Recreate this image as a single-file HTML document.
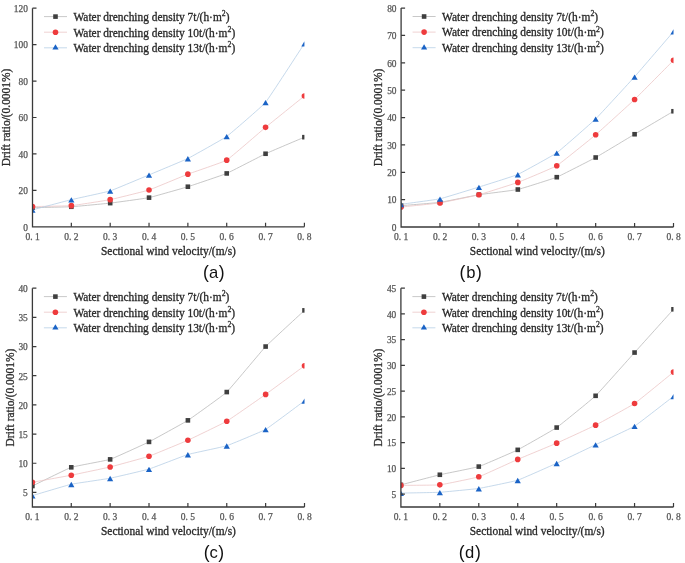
<!DOCTYPE html>
<html><head><meta charset="utf-8"><style>
html,body{margin:0;padding:0;background:#fff;}
svg{display:block;filter:blur(0.3px);}
.tl{font-family:'Liberation Serif',serif;fill:#555;stroke:#555;stroke-width:0.25px}
.at{font-family:'Liberation Serif',serif;font-size:11.42px;fill:#2a2a2a;stroke:#2a2a2a;stroke-width:0.3px}
.lg{font-family:'Liberation Serif',serif;font-size:11.42px;fill:#2a2a2a;stroke:#2a2a2a;stroke-width:0.3px}
.pl{font-family:'Liberation Sans',sans-serif;font-size:16.6px;fill:#111;}
</style></head><body>
<svg width="685" height="563" viewBox="0 0 685 563">
<rect width="685" height="563" fill="#fff"/>
<clipPath id="clipa"><rect x="32.5" y="5.199999999999999" width="271.9" height="221.60000000000002"/></clipPath>
<g clip-path="url(#clipa)">
<path d="M32.50,207.67 C34.12,207.63 68.11,206.95 71.34,206.76 C74.58,206.57 106.95,203.50 110.19,203.12 C113.42,202.74 145.79,198.34 149.03,197.65 C152.27,196.97 184.63,187.73 187.87,186.72 C191.11,185.71 223.48,174.80 226.71,173.43 C229.95,172.05 262.32,155.26 265.56,153.75 C268.79,152.24 302.78,137.86 304.40,137.17" fill="none" stroke="#bababa" stroke-width="0.8"/>
<path d="M32.50,206.58 C34.12,206.54 68.11,205.96 71.34,205.67 C74.58,205.38 106.95,200.31 110.19,199.66 C113.42,199.00 145.79,191.06 149.03,190.00 C152.27,188.94 184.63,175.40 187.87,174.15 C191.11,172.91 223.48,162.08 226.71,160.13 C229.95,158.18 262.32,130.01 265.56,127.34 C268.79,124.67 302.78,97.31 304.40,96.00" fill="none" stroke="#ecc6c6" stroke-width="0.8"/>
<path d="M32.50,209.86 C34.12,209.43 68.11,200.45 71.34,199.66 C74.58,198.87 106.95,191.95 110.19,190.91 C113.42,189.88 145.79,176.23 149.03,174.88 C152.27,173.53 184.63,160.09 187.87,158.49 C191.11,156.89 223.48,138.78 226.71,136.45 C229.95,134.11 262.32,106.25 265.56,102.38 C268.79,98.51 302.78,45.99 304.40,43.54" fill="none" stroke="#b8cfe6" stroke-width="0.8"/>
<rect x="30.20" y="205.37" width="4.6" height="4.6" fill="#3f3f3f"/>
<rect x="69.04" y="204.46" width="4.6" height="4.6" fill="#3f3f3f"/>
<rect x="107.89" y="200.82" width="4.6" height="4.6" fill="#3f3f3f"/>
<rect x="146.73" y="195.35" width="4.6" height="4.6" fill="#3f3f3f"/>
<rect x="185.57" y="184.42" width="4.6" height="4.6" fill="#3f3f3f"/>
<rect x="224.41" y="171.13" width="4.6" height="4.6" fill="#3f3f3f"/>
<rect x="263.26" y="151.45" width="4.6" height="4.6" fill="#3f3f3f"/>
<rect x="302.10" y="134.87" width="4.6" height="4.6" fill="#3f3f3f"/>
<circle cx="32.50" cy="206.58" r="2.8" fill="#ee3b3d"/>
<circle cx="71.34" cy="205.67" r="2.8" fill="#ee3b3d"/>
<circle cx="110.19" cy="199.66" r="2.8" fill="#ee3b3d"/>
<circle cx="149.03" cy="190.00" r="2.8" fill="#ee3b3d"/>
<circle cx="187.87" cy="174.15" r="2.8" fill="#ee3b3d"/>
<circle cx="226.71" cy="160.13" r="2.8" fill="#ee3b3d"/>
<circle cx="265.56" cy="127.34" r="2.8" fill="#ee3b3d"/>
<circle cx="304.40" cy="96.00" r="2.8" fill="#ee3b3d"/>
<path d="M32.50,207.47 L35.60,212.77 L29.40,212.77Z" fill="#1a63c6"/>
<path d="M71.34,197.27 L74.44,202.57 L68.24,202.57Z" fill="#1a63c6"/>
<path d="M110.19,188.53 L113.29,193.83 L107.09,193.83Z" fill="#1a63c6"/>
<path d="M149.03,172.50 L152.13,177.80 L145.93,177.80Z" fill="#1a63c6"/>
<path d="M187.87,156.10 L190.97,161.40 L184.77,161.40Z" fill="#1a63c6"/>
<path d="M226.71,134.06 L229.81,139.36 L223.61,139.36Z" fill="#1a63c6"/>
<path d="M265.56,100.00 L268.66,105.30 L262.46,105.30Z" fill="#1a63c6"/>
<path d="M304.40,41.16 L307.50,46.46 L301.30,46.46Z" fill="#1a63c6"/>
</g>
<path d="M32.5,8.2 V226.8 H304.4" fill="none" stroke="#3a3a3a" stroke-width="1.3"/>
<path d="M32.5,190.37 h4 M32.5,153.93 h4 M32.5,117.50 h4 M32.5,81.07 h4 M32.5,44.63 h4 M32.5,8.20 h4 M71.34,226.8 v-4 M110.19,226.8 v-4 M149.03,226.8 v-4 M187.87,226.8 v-4 M226.71,226.8 v-4 M265.56,226.8 v-4 M304.40,226.8 v-4 " fill="none" stroke="#3a3a3a" stroke-width="1.2"/>
<text x="27.90" y="230.60" text-anchor="end" class="tl" font-size="9.4">0</text>
<text x="27.90" y="194.17" text-anchor="end" class="tl" font-size="9.4">20</text>
<text x="27.90" y="157.73" text-anchor="end" class="tl" font-size="9.4">40</text>
<text x="27.90" y="121.30" text-anchor="end" class="tl" font-size="9.4">60</text>
<text x="27.90" y="84.87" text-anchor="end" class="tl" font-size="9.4">80</text>
<text x="27.90" y="48.43" text-anchor="end" class="tl" font-size="9.4">100</text>
<text x="27.90" y="12.00" text-anchor="end" class="tl" font-size="9.4">120</text>
<text x="32.50" y="239.80" text-anchor="middle" class="tl" font-size="9.5">0. 1</text>
<text x="71.34" y="239.80" text-anchor="middle" class="tl" font-size="9.5">0. 2</text>
<text x="110.19" y="239.80" text-anchor="middle" class="tl" font-size="9.5">0. 3</text>
<text x="149.03" y="239.80" text-anchor="middle" class="tl" font-size="9.5">0. 4</text>
<text x="187.87" y="239.80" text-anchor="middle" class="tl" font-size="9.5">0. 5</text>
<text x="226.71" y="239.80" text-anchor="middle" class="tl" font-size="9.5">0. 6</text>
<text x="265.56" y="239.80" text-anchor="middle" class="tl" font-size="9.5">0. 7</text>
<text x="304.40" y="239.80" text-anchor="middle" class="tl" font-size="9.5">0. 8</text>
<text x="168.45" y="255.10" text-anchor="middle" class="at">Sectional wind velocity/(m/s)</text>
<text transform="translate(10.0,117.50) rotate(-90)" text-anchor="middle" class="at">Drift ratio/(0.0001%)</text>
<path d="M44.0,16.60 H67.0" stroke="#bababa" stroke-width="0.8"/>
<rect x="53.20" y="14.30" width="4.6" height="4.6" fill="#3f3f3f"/>
<text x="73.5" y="20.90" class="lg">Water drenching density 7t/(h·m<tspan dy="-4.8" font-size="7.8">2</tspan><tspan dy="4.8">)</tspan></text>
<path d="M44.0,32.20 H67.0" stroke="#ecc6c6" stroke-width="0.8"/>
<circle cx="55.50" cy="32.20" r="2.8" fill="#ee3b3d"/>
<text x="73.5" y="36.50" class="lg">Water drenching density 10t/(h·m<tspan dy="-4.8" font-size="7.8">2</tspan><tspan dy="4.8">)</tspan></text>
<path d="M44.0,47.80 H67.0" stroke="#b8cfe6" stroke-width="0.8"/>
<path d="M55.50,44.30 L58.60,49.60 L52.40,49.60Z" fill="#1a63c6"/>
<text x="73.5" y="52.10" class="lg">Water drenching density 13t/(h·m<tspan dy="-4.8" font-size="7.8">2</tspan><tspan dy="4.8">)</tspan></text>
<text y="277.8" class="pl"><tspan x="202.9" font-size="17.6">(</tspan><tspan x="208.9">a</tspan><tspan x="218.8" font-size="17.6">)</tspan></text>
<clipPath id="clipb"><rect x="401.1" y="5.1" width="272.4" height="221.9"/></clipPath>
<g clip-path="url(#clipb)">
<path d="M401.10,205.66 C402.72,205.52 436.77,202.83 440.01,202.37 C443.26,201.92 475.69,195.25 478.93,194.71 C482.17,194.18 514.60,190.24 517.84,189.51 C521.09,188.78 553.51,178.53 556.76,177.20 C560.00,175.87 592.43,159.29 595.67,157.50 C598.91,155.71 631.34,136.17 634.59,134.24 C637.83,132.31 671.88,112.21 673.50,111.26" fill="none" stroke="#bababa" stroke-width="0.8"/>
<path d="M401.10,207.03 C402.72,206.85 436.77,203.43 440.01,202.92 C443.26,202.41 475.69,195.57 478.93,194.71 C482.17,193.86 514.60,183.61 517.84,182.40 C521.09,181.19 553.51,167.69 556.76,165.71 C560.00,163.72 592.43,137.55 595.67,134.79 C598.91,132.03 631.34,102.59 634.59,99.49 C637.83,96.39 671.88,61.99 673.50,60.36" fill="none" stroke="#ecc6c6" stroke-width="0.8"/>
<path d="M401.10,204.29 C402.72,204.06 436.77,199.53 440.01,198.82 C443.26,198.10 475.69,188.07 478.93,187.05 C482.17,186.04 514.60,175.89 517.84,174.46 C521.09,173.04 553.51,155.16 556.76,152.85 C560.00,150.53 592.43,122.09 595.67,118.92 C598.91,115.75 631.34,80.42 634.59,76.78 C637.83,73.14 671.88,33.51 673.50,31.63" fill="none" stroke="#b8cfe6" stroke-width="0.8"/>
<rect x="398.80" y="203.36" width="4.6" height="4.6" fill="#3f3f3f"/>
<rect x="437.71" y="200.07" width="4.6" height="4.6" fill="#3f3f3f"/>
<rect x="476.63" y="192.41" width="4.6" height="4.6" fill="#3f3f3f"/>
<rect x="515.54" y="187.21" width="4.6" height="4.6" fill="#3f3f3f"/>
<rect x="554.46" y="174.90" width="4.6" height="4.6" fill="#3f3f3f"/>
<rect x="593.37" y="155.20" width="4.6" height="4.6" fill="#3f3f3f"/>
<rect x="632.29" y="131.94" width="4.6" height="4.6" fill="#3f3f3f"/>
<rect x="671.20" y="108.96" width="4.6" height="4.6" fill="#3f3f3f"/>
<circle cx="401.10" cy="207.03" r="2.8" fill="#ee3b3d"/>
<circle cx="440.01" cy="202.92" r="2.8" fill="#ee3b3d"/>
<circle cx="478.93" cy="194.71" r="2.8" fill="#ee3b3d"/>
<circle cx="517.84" cy="182.40" r="2.8" fill="#ee3b3d"/>
<circle cx="556.76" cy="165.71" r="2.8" fill="#ee3b3d"/>
<circle cx="595.67" cy="134.79" r="2.8" fill="#ee3b3d"/>
<circle cx="634.59" cy="99.49" r="2.8" fill="#ee3b3d"/>
<circle cx="673.50" cy="60.36" r="2.8" fill="#ee3b3d"/>
<path d="M401.10,201.90 L404.20,207.20 L398.00,207.20Z" fill="#1a63c6"/>
<path d="M440.01,196.43 L443.11,201.73 L436.91,201.73Z" fill="#1a63c6"/>
<path d="M478.93,184.67 L482.03,189.97 L475.83,189.97Z" fill="#1a63c6"/>
<path d="M517.84,172.08 L520.94,177.38 L514.74,177.38Z" fill="#1a63c6"/>
<path d="M556.76,150.46 L559.86,155.76 L553.66,155.76Z" fill="#1a63c6"/>
<path d="M595.67,116.53 L598.77,121.83 L592.57,121.83Z" fill="#1a63c6"/>
<path d="M634.59,74.39 L637.69,79.69 L631.49,79.69Z" fill="#1a63c6"/>
<path d="M673.50,29.25 L676.60,34.55 L670.40,34.55Z" fill="#1a63c6"/>
</g>
<path d="M401.1,8.1 V227.0 H673.5" fill="none" stroke="#3a3a3a" stroke-width="1.3"/>
<path d="M401.1,199.64 h4 M401.1,172.28 h4 M401.1,144.91 h4 M401.1,117.55 h4 M401.1,90.19 h4 M401.1,62.82 h4 M401.1,35.46 h4 M401.1,8.10 h4 M440.01,227.0 v-4 M478.93,227.0 v-4 M517.84,227.0 v-4 M556.76,227.0 v-4 M595.67,227.0 v-4 M634.59,227.0 v-4 M673.50,227.0 v-4 " fill="none" stroke="#3a3a3a" stroke-width="1.2"/>
<text x="396.50" y="230.80" text-anchor="end" class="tl" font-size="9.4">0</text>
<text x="396.50" y="203.44" text-anchor="end" class="tl" font-size="9.4">10</text>
<text x="396.50" y="176.08" text-anchor="end" class="tl" font-size="9.4">20</text>
<text x="396.50" y="148.71" text-anchor="end" class="tl" font-size="9.4">30</text>
<text x="396.50" y="121.35" text-anchor="end" class="tl" font-size="9.4">40</text>
<text x="396.50" y="93.99" text-anchor="end" class="tl" font-size="9.4">50</text>
<text x="396.50" y="66.62" text-anchor="end" class="tl" font-size="9.4">60</text>
<text x="396.50" y="39.26" text-anchor="end" class="tl" font-size="9.4">70</text>
<text x="396.50" y="11.90" text-anchor="end" class="tl" font-size="9.4">80</text>
<text x="401.10" y="240.00" text-anchor="middle" class="tl" font-size="9.5">0. 1</text>
<text x="440.01" y="240.00" text-anchor="middle" class="tl" font-size="9.5">0. 2</text>
<text x="478.93" y="240.00" text-anchor="middle" class="tl" font-size="9.5">0. 3</text>
<text x="517.84" y="240.00" text-anchor="middle" class="tl" font-size="9.5">0. 4</text>
<text x="556.76" y="240.00" text-anchor="middle" class="tl" font-size="9.5">0. 5</text>
<text x="595.67" y="240.00" text-anchor="middle" class="tl" font-size="9.5">0. 6</text>
<text x="634.59" y="240.00" text-anchor="middle" class="tl" font-size="9.5">0. 7</text>
<text x="673.50" y="240.00" text-anchor="middle" class="tl" font-size="9.5">0. 8</text>
<text x="537.30" y="255.30" text-anchor="middle" class="at">Sectional wind velocity/(m/s)</text>
<text transform="translate(382.4,117.55) rotate(-90)" text-anchor="middle" class="at">Drift ratio/(0.0001%)</text>
<path d="M412.6,16.50 H435.6" stroke="#bababa" stroke-width="0.8"/>
<rect x="421.80" y="14.20" width="4.6" height="4.6" fill="#3f3f3f"/>
<text x="442.1" y="20.80" class="lg">Water drenching density 7t/(h·m<tspan dy="-4.8" font-size="7.8">2</tspan><tspan dy="4.8">)</tspan></text>
<path d="M412.6,32.10 H435.6" stroke="#ecc6c6" stroke-width="0.8"/>
<circle cx="424.10" cy="32.10" r="2.8" fill="#ee3b3d"/>
<text x="442.1" y="36.40" class="lg">Water drenching density 10t/(h·m<tspan dy="-4.8" font-size="7.8">2</tspan><tspan dy="4.8">)</tspan></text>
<path d="M412.6,47.70 H435.6" stroke="#b8cfe6" stroke-width="0.8"/>
<path d="M424.10,44.20 L427.20,49.50 L421.00,49.50Z" fill="#1a63c6"/>
<text x="442.1" y="52.00" class="lg">Water drenching density 13t/(h·m<tspan dy="-4.8" font-size="7.8">2</tspan><tspan dy="4.8">)</tspan></text>
<text y="277.8" class="pl"><tspan x="459.4" font-size="17.6">(</tspan><tspan x="466.2">b</tspan><tspan x="475.9" font-size="17.6">)</tspan></text>
<clipPath id="clipc"><rect x="32.4" y="285.2" width="272.1" height="221.8"/></clipPath>
<g clip-path="url(#clipc)">
<path d="M32.40,486.00 C34.02,485.22 68.03,468.43 71.27,467.32 C74.51,466.22 106.90,460.45 110.14,459.39 C113.38,458.33 145.78,443.51 149.01,441.89 C152.25,440.26 184.65,422.43 187.89,420.36 C191.13,418.28 223.52,395.13 226.76,392.06 C230.00,388.98 262.39,349.95 265.63,346.55 C268.87,343.14 302.88,311.88 304.50,310.37" fill="none" stroke="#bababa" stroke-width="0.8"/>
<path d="M32.40,482.26 C34.02,481.97 68.03,475.84 71.27,475.20 C74.51,474.56 106.90,467.76 110.14,466.97 C113.38,466.18 145.78,457.35 149.01,456.24 C152.25,455.12 184.65,441.71 187.89,440.25 C191.13,438.79 223.52,423.14 226.76,421.23 C230.00,419.32 262.39,396.70 265.63,394.39 C268.87,392.08 302.88,366.99 304.50,365.80" fill="none" stroke="#ecc6c6" stroke-width="0.8"/>
<path d="M32.40,495.62 C34.02,495.15 68.03,484.97 71.27,484.24 C74.51,483.52 106.90,478.87 110.14,478.24 C113.38,477.60 145.78,470.06 149.01,469.07 C152.25,468.09 184.65,455.46 187.89,454.49 C191.13,453.52 223.52,446.78 226.76,445.74 C230.00,444.69 262.39,431.27 265.63,429.40 C268.87,427.53 302.88,402.00 304.50,400.81" fill="none" stroke="#b8cfe6" stroke-width="0.8"/>
<rect x="30.10" y="483.70" width="4.6" height="4.6" fill="#3f3f3f"/>
<rect x="68.97" y="465.02" width="4.6" height="4.6" fill="#3f3f3f"/>
<rect x="107.84" y="457.09" width="4.6" height="4.6" fill="#3f3f3f"/>
<rect x="146.71" y="439.59" width="4.6" height="4.6" fill="#3f3f3f"/>
<rect x="185.59" y="418.06" width="4.6" height="4.6" fill="#3f3f3f"/>
<rect x="224.46" y="389.76" width="4.6" height="4.6" fill="#3f3f3f"/>
<rect x="263.33" y="344.25" width="4.6" height="4.6" fill="#3f3f3f"/>
<rect x="302.20" y="308.07" width="4.6" height="4.6" fill="#3f3f3f"/>
<circle cx="32.40" cy="482.26" r="2.8" fill="#ee3b3d"/>
<circle cx="71.27" cy="475.20" r="2.8" fill="#ee3b3d"/>
<circle cx="110.14" cy="466.97" r="2.8" fill="#ee3b3d"/>
<circle cx="149.01" cy="456.24" r="2.8" fill="#ee3b3d"/>
<circle cx="187.89" cy="440.25" r="2.8" fill="#ee3b3d"/>
<circle cx="226.76" cy="421.23" r="2.8" fill="#ee3b3d"/>
<circle cx="265.63" cy="394.39" r="2.8" fill="#ee3b3d"/>
<circle cx="304.50" cy="365.80" r="2.8" fill="#ee3b3d"/>
<path d="M32.40,493.24 L35.50,498.54 L29.30,498.54Z" fill="#1a63c6"/>
<path d="M71.27,481.86 L74.37,487.16 L68.17,487.16Z" fill="#1a63c6"/>
<path d="M110.14,475.85 L113.24,481.15 L107.04,481.15Z" fill="#1a63c6"/>
<path d="M149.01,466.69 L152.11,471.99 L145.91,471.99Z" fill="#1a63c6"/>
<path d="M187.89,452.10 L190.99,457.40 L184.79,457.40Z" fill="#1a63c6"/>
<path d="M226.76,443.35 L229.86,448.65 L223.66,448.65Z" fill="#1a63c6"/>
<path d="M265.63,427.01 L268.73,432.31 L262.53,432.31Z" fill="#1a63c6"/>
<path d="M304.50,398.42 L307.60,403.72 L301.40,403.72Z" fill="#1a63c6"/>
</g>
<path d="M32.4,288.2 V507.0 H304.5" fill="none" stroke="#3a3a3a" stroke-width="1.3"/>
<path d="M32.4,492.41 h4 M32.4,463.24 h4 M32.4,434.07 h4 M32.4,404.89 h4 M32.4,375.72 h4 M32.4,346.55 h4 M32.4,317.37 h4 M32.4,288.20 h4 M71.27,507.0 v-4 M110.14,507.0 v-4 M149.01,507.0 v-4 M187.89,507.0 v-4 M226.76,507.0 v-4 M265.63,507.0 v-4 M304.50,507.0 v-4 " fill="none" stroke="#3a3a3a" stroke-width="1.2"/>
<text x="27.80" y="496.21" text-anchor="end" class="tl" font-size="9.4">5</text>
<text x="27.80" y="467.04" text-anchor="end" class="tl" font-size="9.4">10</text>
<text x="27.80" y="437.87" text-anchor="end" class="tl" font-size="9.4">15</text>
<text x="27.80" y="408.69" text-anchor="end" class="tl" font-size="9.4">20</text>
<text x="27.80" y="379.52" text-anchor="end" class="tl" font-size="9.4">25</text>
<text x="27.80" y="350.35" text-anchor="end" class="tl" font-size="9.4">30</text>
<text x="27.80" y="321.17" text-anchor="end" class="tl" font-size="9.4">35</text>
<text x="27.80" y="292.00" text-anchor="end" class="tl" font-size="9.4">40</text>
<text x="32.40" y="520.00" text-anchor="middle" class="tl" font-size="9.5">0. 1</text>
<text x="71.27" y="520.00" text-anchor="middle" class="tl" font-size="9.5">0. 2</text>
<text x="110.14" y="520.00" text-anchor="middle" class="tl" font-size="9.5">0. 3</text>
<text x="149.01" y="520.00" text-anchor="middle" class="tl" font-size="9.5">0. 4</text>
<text x="187.89" y="520.00" text-anchor="middle" class="tl" font-size="9.5">0. 5</text>
<text x="226.76" y="520.00" text-anchor="middle" class="tl" font-size="9.5">0. 6</text>
<text x="265.63" y="520.00" text-anchor="middle" class="tl" font-size="9.5">0. 7</text>
<text x="304.50" y="520.00" text-anchor="middle" class="tl" font-size="9.5">0. 8</text>
<text x="168.45" y="535.30" text-anchor="middle" class="at">Sectional wind velocity/(m/s)</text>
<text transform="translate(14.4,397.60) rotate(-90)" text-anchor="middle" class="at">Drift ratio/(0.0001%)</text>
<path d="M43.9,296.60 H66.9" stroke="#bababa" stroke-width="0.8"/>
<rect x="53.10" y="294.30" width="4.6" height="4.6" fill="#3f3f3f"/>
<text x="73.4" y="300.90" class="lg">Water drenching density 7t/(h·m<tspan dy="-4.8" font-size="7.8">2</tspan><tspan dy="4.8">)</tspan></text>
<path d="M43.9,312.20 H66.9" stroke="#ecc6c6" stroke-width="0.8"/>
<circle cx="55.40" cy="312.20" r="2.8" fill="#ee3b3d"/>
<text x="73.4" y="316.50" class="lg">Water drenching density 10t/(h·m<tspan dy="-4.8" font-size="7.8">2</tspan><tspan dy="4.8">)</tspan></text>
<path d="M43.9,327.80 H66.9" stroke="#b8cfe6" stroke-width="0.8"/>
<path d="M55.40,324.30 L58.50,329.60 L52.30,329.60Z" fill="#1a63c6"/>
<text x="73.4" y="332.10" class="lg">Water drenching density 13t/(h·m<tspan dy="-4.8" font-size="7.8">2</tspan><tspan dy="4.8">)</tspan></text>
<text y="558.1" class="pl"><tspan x="203.8" font-size="17.6">(</tspan><tspan x="209.5">c</tspan><tspan x="218.2" font-size="17.6">)</tspan></text>
<clipPath id="clipd"><rect x="400.9" y="285.2" width="272.6" height="221.8"/></clipPath>
<g clip-path="url(#clipd)">
<path d="M400.90,484.86 C402.52,484.44 436.60,475.53 439.84,474.77 C443.09,474.01 475.54,467.62 478.79,466.59 C482.03,465.55 514.48,451.48 517.73,449.85 C520.97,448.23 553.43,429.82 556.67,427.56 C559.92,425.31 592.37,398.92 595.61,395.80 C598.86,392.67 631.31,356.16 634.56,352.55 C637.80,348.95 671.88,311.11 673.50,309.31" fill="none" stroke="#bababa" stroke-width="0.8"/>
<path d="M400.90,485.38 C402.52,485.36 436.60,485.22 439.84,484.86 C443.09,484.50 475.54,477.84 478.79,476.78 C482.03,475.72 514.48,460.78 517.73,459.38 C520.97,457.98 553.43,444.59 556.67,443.16 C559.92,441.74 592.37,426.79 595.61,425.14 C598.86,423.49 631.31,405.73 634.56,403.52 C637.80,401.31 671.88,373.42 673.50,372.12" fill="none" stroke="#ecc6c6" stroke-width="0.8"/>
<path d="M400.90,493.10 C402.52,493.07 436.60,492.47 439.84,492.28 C443.09,492.08 475.54,488.97 478.79,488.47 C482.03,487.96 514.48,481.28 517.73,480.23 C520.97,479.18 553.43,464.72 556.67,463.24 C559.92,461.76 592.37,446.25 595.61,444.71 C598.86,443.16 631.31,428.19 634.56,426.17 C637.80,424.16 671.88,397.56 673.50,396.31" fill="none" stroke="#b8cfe6" stroke-width="0.8"/>
<rect x="398.60" y="482.56" width="4.6" height="4.6" fill="#3f3f3f"/>
<rect x="437.54" y="472.47" width="4.6" height="4.6" fill="#3f3f3f"/>
<rect x="476.49" y="464.29" width="4.6" height="4.6" fill="#3f3f3f"/>
<rect x="515.43" y="447.55" width="4.6" height="4.6" fill="#3f3f3f"/>
<rect x="554.37" y="425.26" width="4.6" height="4.6" fill="#3f3f3f"/>
<rect x="593.31" y="393.50" width="4.6" height="4.6" fill="#3f3f3f"/>
<rect x="632.26" y="350.25" width="4.6" height="4.6" fill="#3f3f3f"/>
<rect x="671.20" y="307.01" width="4.6" height="4.6" fill="#3f3f3f"/>
<circle cx="400.90" cy="485.38" r="2.8" fill="#ee3b3d"/>
<circle cx="439.84" cy="484.86" r="2.8" fill="#ee3b3d"/>
<circle cx="478.79" cy="476.78" r="2.8" fill="#ee3b3d"/>
<circle cx="517.73" cy="459.38" r="2.8" fill="#ee3b3d"/>
<circle cx="556.67" cy="443.16" r="2.8" fill="#ee3b3d"/>
<circle cx="595.61" cy="425.14" r="2.8" fill="#ee3b3d"/>
<circle cx="634.56" cy="403.52" r="2.8" fill="#ee3b3d"/>
<circle cx="673.50" cy="372.12" r="2.8" fill="#ee3b3d"/>
<path d="M400.90,490.71 L404.00,496.01 L397.80,496.01Z" fill="#1a63c6"/>
<path d="M439.84,489.89 L442.94,495.19 L436.74,495.19Z" fill="#1a63c6"/>
<path d="M478.79,486.08 L481.89,491.38 L475.69,491.38Z" fill="#1a63c6"/>
<path d="M517.73,477.84 L520.83,483.14 L514.63,483.14Z" fill="#1a63c6"/>
<path d="M556.67,460.86 L559.77,466.16 L553.57,466.16Z" fill="#1a63c6"/>
<path d="M595.61,442.32 L598.71,447.62 L592.51,447.62Z" fill="#1a63c6"/>
<path d="M634.56,423.79 L637.66,429.09 L631.46,429.09Z" fill="#1a63c6"/>
<path d="M673.50,393.93 L676.60,399.23 L670.40,399.23Z" fill="#1a63c6"/>
</g>
<path d="M400.9,288.2 V507.0 H673.5" fill="none" stroke="#3a3a3a" stroke-width="1.3"/>
<path d="M400.9,494.13 h4 M400.9,468.39 h4 M400.9,442.65 h4 M400.9,416.91 h4 M400.9,391.16 h4 M400.9,365.42 h4 M400.9,339.68 h4 M400.9,313.94 h4 M400.9,288.20 h4 M439.84,507.0 v-4 M478.79,507.0 v-4 M517.73,507.0 v-4 M556.67,507.0 v-4 M595.61,507.0 v-4 M634.56,507.0 v-4 M673.50,507.0 v-4 " fill="none" stroke="#3a3a3a" stroke-width="1.2"/>
<text x="396.30" y="497.93" text-anchor="end" class="tl" font-size="9.4">5</text>
<text x="396.30" y="472.19" text-anchor="end" class="tl" font-size="9.4">10</text>
<text x="396.30" y="446.45" text-anchor="end" class="tl" font-size="9.4">15</text>
<text x="396.30" y="420.71" text-anchor="end" class="tl" font-size="9.4">20</text>
<text x="396.30" y="394.96" text-anchor="end" class="tl" font-size="9.4">25</text>
<text x="396.30" y="369.22" text-anchor="end" class="tl" font-size="9.4">30</text>
<text x="396.30" y="343.48" text-anchor="end" class="tl" font-size="9.4">35</text>
<text x="396.30" y="317.74" text-anchor="end" class="tl" font-size="9.4">40</text>
<text x="396.30" y="292.00" text-anchor="end" class="tl" font-size="9.4">45</text>
<text x="400.90" y="520.00" text-anchor="middle" class="tl" font-size="9.5">0. 1</text>
<text x="439.84" y="520.00" text-anchor="middle" class="tl" font-size="9.5">0. 2</text>
<text x="478.79" y="520.00" text-anchor="middle" class="tl" font-size="9.5">0. 3</text>
<text x="517.73" y="520.00" text-anchor="middle" class="tl" font-size="9.5">0. 4</text>
<text x="556.67" y="520.00" text-anchor="middle" class="tl" font-size="9.5">0. 5</text>
<text x="595.61" y="520.00" text-anchor="middle" class="tl" font-size="9.5">0. 6</text>
<text x="634.56" y="520.00" text-anchor="middle" class="tl" font-size="9.5">0. 7</text>
<text x="673.50" y="520.00" text-anchor="middle" class="tl" font-size="9.5">0. 8</text>
<text x="537.20" y="535.30" text-anchor="middle" class="at">Sectional wind velocity/(m/s)</text>
<text transform="translate(382.4,397.60) rotate(-90)" text-anchor="middle" class="at">Drift ratio/(0.0001%)</text>
<path d="M412.4,296.60 H435.4" stroke="#bababa" stroke-width="0.8"/>
<rect x="421.60" y="294.30" width="4.6" height="4.6" fill="#3f3f3f"/>
<text x="441.9" y="300.90" class="lg">Water drenching density 7t/(h·m<tspan dy="-4.8" font-size="7.8">2</tspan><tspan dy="4.8">)</tspan></text>
<path d="M412.4,312.20 H435.4" stroke="#ecc6c6" stroke-width="0.8"/>
<circle cx="423.90" cy="312.20" r="2.8" fill="#ee3b3d"/>
<text x="441.9" y="316.50" class="lg">Water drenching density 10t/(h·m<tspan dy="-4.8" font-size="7.8">2</tspan><tspan dy="4.8">)</tspan></text>
<path d="M412.4,327.80 H435.4" stroke="#b8cfe6" stroke-width="0.8"/>
<path d="M423.90,324.30 L427.00,329.60 L420.80,329.60Z" fill="#1a63c6"/>
<text x="441.9" y="332.10" class="lg">Water drenching density 13t/(h·m<tspan dy="-4.8" font-size="7.8">2</tspan><tspan dy="4.8">)</tspan></text>
<text y="558.1" class="pl"><tspan x="458.8" font-size="17.6">(</tspan><tspan x="465.1">d</tspan><tspan x="475.0" font-size="17.6">)</tspan></text>
</svg>
</body></html>
